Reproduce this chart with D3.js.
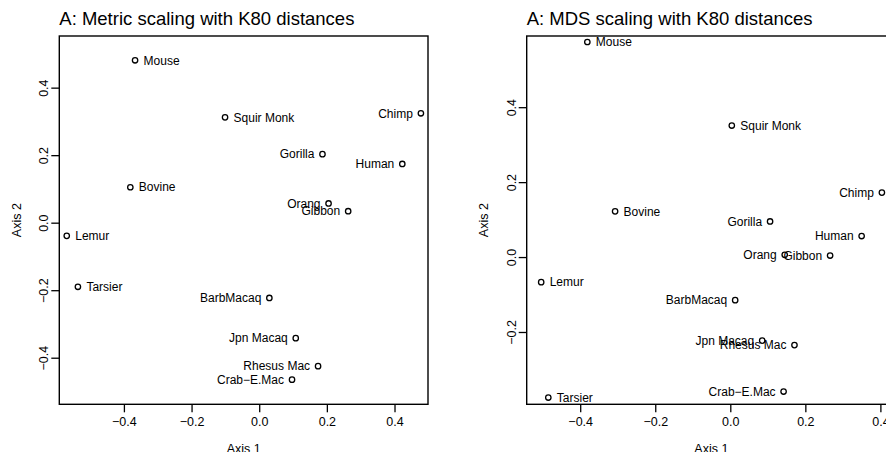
<!DOCTYPE html>
<html>
<head>
<meta charset="utf-8">
<script src="https://cdn.jsdelivr.net/npm/d3@7"></script>
<style>
  body { margin: 0; background: #fff; }
  svg text { font-family: "Liberation Sans", Arial, Helvetica, sans-serif; fill: #000; }
</style>
</head>
<body>
<svg id="chart"></svg>
<script>
// taxa, in the order of the distance matrix
const taxa = ['Mouse', 'Bovine', 'Lemur', 'Tarsier', 'Squir Monk', 'Jpn Macaq', 'Rhesus Mac',
  'Crab\u2212E.Mac', 'BarbMacaq', 'Gibbon', 'Orang', 'Gorilla', 'Chimp', 'Human'];

// metric (classical) scaling, axis 1 and axis 2
const metricAxis1 = [-0.367, -0.381, -0.569, -0.536, -0.101, 0.108, 0.174, 0.097, 0.030, 0.263, 0.205, 0.187, 0.478, 0.423];
const metricAxis2 = [0.481, 0.105, -0.039, -0.190, 0.312, -0.342, -0.425, -0.465, -0.223, 0.034, 0.057, 0.203, 0.324, 0.174];

// non-metric MDS, axis 1 and axis 2
const mdsAxis1 = [-0.381, -0.307, -0.504, -0.485, 0.004, 0.085, 0.171, 0.142, 0.013, 0.266, 0.145, 0.106, 0.404, 0.350];
const mdsAxis2 = [0.574, 0.122, -0.067, -0.375, 0.351, -0.223, -0.235, -0.359, -0.115, 0.004, 0.006, 0.095, 0.172, 0.056];

// taxa labelled to the right of their point, the rest go to the left
const labelRight = ['Mouse', 'Bovine', 'Lemur', 'Tarsier', 'Squir Monk'];

const metricXTicks = [-0.4, -0.2, 0, 0.2, 0.4];
const metricYTicks = [-0.4, -0.2, 0, 0.2, 0.4];
const mdsXTicks = [-0.4, -0.2, 0, 0.2, 0.4];
const mdsYTicks = [-0.2, 0, 0.2, 0.4];

const width = 886, height = 452;
const svg = d3.select('#chart').attr('width', width).attr('height', height);
const fmt = d3.format('.1f');

function drawPanel(opts) {
  const { title, xs, ys, xlim, ylim, xTicks, yTicks, box } = opts;
  const g = svg.append('g');

  const x = d3.scaleLinear().domain(xlim).range([box.left, box.right]);
  const y = d3.scaleLinear().domain(ylim).range([box.bottom, box.top]);

  // x axis
  const xAxis = g.append('g')
    .attr('transform', `translate(0,${box.bottom})`)
    .call(d3.axisBottom(x).tickValues(xTicks).tickSize(8).tickFormat(fmt));
  xAxis.select('.domain').remove();
  xAxis.selectAll('.tick line').attr('stroke', '#000').attr('stroke-width', 1.3);
  xAxis.selectAll('.tick text')
    .attr('y', 17.5).attr('dy', '0.35em')
    .style('font-size', '12.5px');

  // y axis, labels turned like R does
  const yAxis = g.append('g')
    .attr('transform', `translate(${box.left},0)`)
    .call(d3.axisLeft(y).tickValues(yTicks).tickSize(8).tickFormat(fmt));
  yAxis.select('.domain').remove();
  yAxis.selectAll('.tick line').attr('stroke', '#000').attr('stroke-width', 1.3);
  yAxis.selectAll('.tick text')
    .attr('transform', 'rotate(-90)')
    .attr('x', 0).attr('y', -11).attr('dy', 0)
    .attr('text-anchor', 'middle')
    .style('font-size', '12.5px');

  // frame
  g.append('rect')
    .attr('x', box.left).attr('y', box.top)
    .attr('width', box.right - box.left).attr('height', box.bottom - box.top)
    .attr('fill', 'none').attr('stroke', '#000').attr('stroke-width', 1.4);

  // title and axis titles
  g.append('text')
    .attr('x', box.left).attr('y', 24.5)
    .style('font-size', '18.5px')
    .text(title);

  g.append('text')
    .attr('x', (box.left + box.right) / 2).attr('y', 452.5)
    .attr('text-anchor', 'middle')
    .style('font-size', '12.5px')
    .text('Axis 1');

  g.append('text')
    .attr('transform', `translate(${box.left - 38.5},${(box.top + box.bottom) / 2}) rotate(-90)`)
    .attr('text-anchor', 'middle')
    .style('font-size', '12.5px')
    .text('Axis 2');

  // points
  const data = taxa.map((name, i) => ({ name, x: xs[i], y: ys[i], right: labelRight.includes(name) }));

  g.selectAll('circle.pt')
    .data(data)
    .enter()
    .append('circle')
    .attr('class', 'pt')
    .attr('cx', d => x(d.x))
    .attr('cy', d => y(d.y))
    .attr('r', 2.7)
    .attr('fill', 'none')
    .attr('stroke', '#000')
    .attr('stroke-width', 1.3);

  g.selectAll('text.lab')
    .data(data)
    .enter()
    .append('text')
    .attr('class', 'lab')
    .attr('x', d => x(d.x) + (d.right ? 8.5 : -8))
    .attr('y', d => y(d.y))
    .attr('dy', '0.35em')
    .attr('text-anchor', d => d.right ? 'start' : 'end')
    .style('font-size', '12px')
    .text(d => d.name);
}

drawPanel({
  title: 'A: Metric scaling with K80 distances',
  xs: metricAxis1, ys: metricAxis2,
  xlim: [-0.591, 0.499], ylim: [-0.538, 0.553],
  xTicks: metricXTicks, yTicks: metricYTicks,
  box: { left: 59.3, right: 428, top: 36, bottom: 404.3 }
});

drawPanel({
  title: 'A: MDS scaling with K80 distances',
  xs: mdsAxis1, ys: mdsAxis2,
  xlim: [-0.5426, 0.4416], ylim: [-0.393, 0.590],
  xTicks: mdsXTicks, yTicks: mdsYTicks,
  box: { left: 526.7, right: 896, top: 36, bottom: 404.3 }
});
</script>
</body>
</html>
